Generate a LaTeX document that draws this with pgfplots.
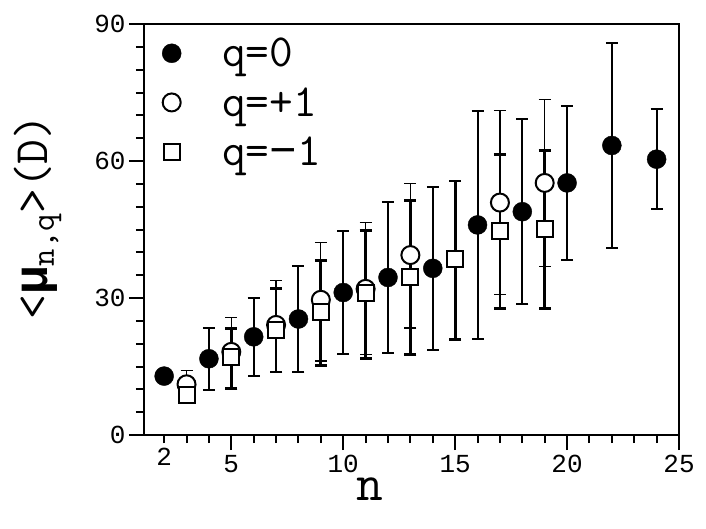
\documentclass[border=0pt]{standalone}
\usepackage{fontspec}
\usepackage{pgfplots}
\pgfplotsset{compat=1.18}
\setmainfont{Liberation Mono}
\newfontfamily\tickfont{Liberation Mono}
\newfontfamily\mufont{Liberation Mono}

\begin{document}
\begin{tikzpicture}
\begin{axis}[
  name=ax,
  scale only axis,
  width=535pt, height=411pt,
  xmin=1.1, xmax=25,
  ymin=0, ymax=90,
  axis line style={line width=2.5pt},
  tick pos=left,
  tick align=outside,
  xtick={5,10,15,20,25},
  minor xtick={2,3,4,6,7,8,9,11,12,13,14,16,17,18,19,21,22,23,24},
  extra x ticks={2},
  extra x tick style={major tick length=8pt},
  ytick={0,30,60,90},
  minor ytick={5,10,15,20,25,35,40,45,50,55,65,70,75,80,85},
  major tick length=15pt,
  minor tick length=8pt,
  every tick/.style={black, line width=2pt},
  /pgf/number format/assume math mode=true,
  tick label style={font=\tickfont\fontsize{26}{26}\selectfont},
  xticklabel style={yshift=-2pt},
  xlabel={n},
  xlabel style={font=\ttfamily\fontsize{52}{52}\selectfont,
    at={(axis description cs:0.4226,0)}, anchor=base, yshift=-65pt},
  ylabel={<{\mufont\bfseries μ}\textsubscript{n,q}>(D)},
  ylabel style={font=\ttfamily\fontsize{48}{48}\selectfont,
    at={(axis description cs:-0.18,0.53)}, anchor=base},
  legend style={draw=none, fill=none,
    at={(axis description cs:0,1)}, anchor=north west,
    xshift=15pt, yshift=-10pt,
    font=\ttfamily\fontsize{46}{46}\selectfont,
    row sep=15pt, column sep=39pt},
  legend cell align=left,
  clip=false,
]
\addplot[only marks, mark=*, mark size=9.5pt, black,
  error bars/.cd, y dir=both, y explicit,
  error bar style={line width=2pt},
  error mark options={rotate=90, black, mark size=6pt, line width=2pt}]
coordinates {
  (2,12.9) +- (0,0)
  (4,16.7) +- (0,6.8)
  (6,21.5) +- (0,8.6)
  (8,25.4) +- (0,11.6)
  (10,31.2) +- (0,13.5)
  (12,34.5) +- (0,16.5)
  (14,36.5) +- (0,17.8)
  (16,46.0) +- (0,25.0)
  (18,48.9) +- (0,20.2)
  (20,55.2) +- (0,16.8)
  (22,63.4) +- (0,22.5)
  (24,60.4) +- (0,11.0)
};
\addlegendentry{q=0}
\addplot[only marks, mark=*, mark size=9pt,
  mark options={draw=black, fill=white, line width=2pt},
  error bars/.cd, y dir=both, y explicit,
  error bar style={line width=1.3pt, black},
  error mark options={rotate=90, black, mark size=6pt, line width=1.3pt}]
coordinates {
  (3,11.1) += (0,3.1) -= (0,3.1)
  (5,18.2) += (0,7.6) -= (0,8.2)
  (7,24.1) += (0,9.8) -= (0,10.3)
  (9,29.6) += (0,12.5) -= (0,13.4)
  (11,32.0) += (0,14.6) -= (0,14.3)
  (13,39.4) += (0,15.7) -= (0,16.0)
  (17,50.9) += (0,20.1) -= (0,20.2)
  (19,55.2) += (0,18.3) -= (0,18.3)
};
\addlegendentry{q=+1}
\addplot[only marks, mark=square*, mark size=8pt,
  mark options={draw=black, fill=white, line width=2pt},
  error bars/.cd, y dir=both, y explicit,
  error bar style={line width=2.8pt, black},
  error mark options={rotate=90, black, mark size=6pt, line width=2.8pt}]
coordinates {
  (3,8.8) += (0,0) -= (0,0)
  (5,17.0) += (0,6.4) -= (0,6.8)
  (7,23.0) += (0,9.0) -= (0,9.2)
  (9,27.0) += (0,11.3) -= (0,11.8)
  (11,31.2) += (0,13.5) -= (0,14.4)
  (13,34.5) += (0,16.8) -= (0,16.8)
  (15,38.5) += (0,17.1) -= (0,17.5)
  (17,44.7) += (0,16.7) -= (0,17.0)
  (19,45.2) += (0,17.1) -= (0,17.5)
};
\addlegendentry{q={\tickfont −}1}
\end{axis}
\pgfresetboundingbox
\path (ax.south west) ++(-144pt,-93pt) rectangle ++(706pt,528pt);
\end{tikzpicture}
\end{document}
